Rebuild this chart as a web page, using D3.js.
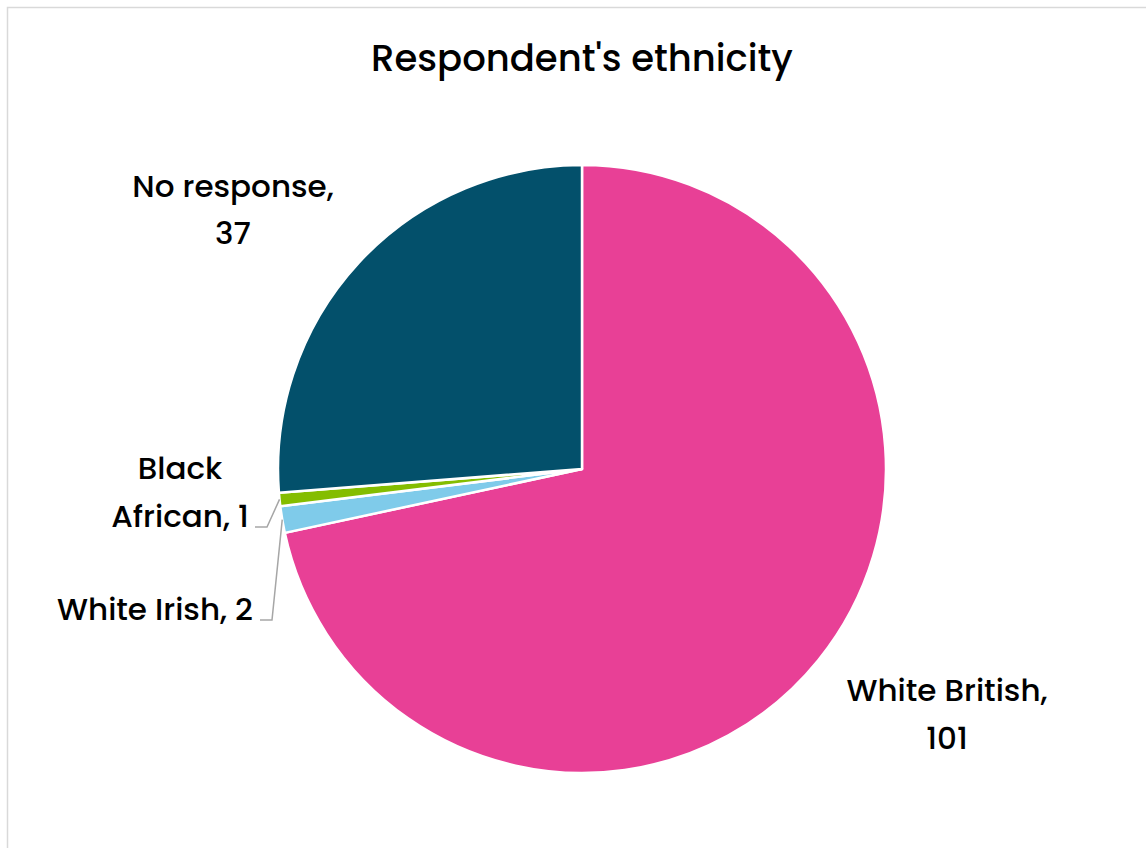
<!DOCTYPE html>
<html>
<head>
<meta charset="utf-8">
<script src="https://cdn.jsdelivr.net/npm/d3@7"></script>
<style>
  html, body { margin: 0; padding: 0; background: #fff; }
  svg { display: block; }
  text { font-family: "Poppins", "Inter", "Noto Sans", sans-serif; fill: #000; font-weight: 500; }
</style>
</head>
<body>
<svg id="chart" width="1146" height="848"></svg>
<script>
// Survey results: respondent ethnicity
const categories = ["White British", "White Irish", "Black African", "No response"];
const counts = [101, 2, 1, 37];
const colors = ["#E84096", "#7FCBEA", "#84BD00", "#03506B"];

// Label placement (text centre, per line) and leader-line elbows
const labelLines = [
  [["White British,", 947, 690], ["101", 947, 738]],
  [["White Irish, 2", 155, 609]],
  [["Black", 180, 468], ["African, 1", 180, 516]],
  [["No response,", 233, 186], ["37", 233, 233]]
];
const leaders = [null, [[272, 620], [260, 620]], [[267, 527], [255, 527]], null];

const svg = d3.select("#chart");
const W = 1146, H = 848;
const cx = 582, cy = 469, R = 304;

// chart frame
svg.append("rect")
  .attr("x", 7.5).attr("y", 7.5)
  .attr("width", W + 10).attr("height", H + 10)
  .attr("fill", "#fff").attr("stroke", "#d9d9d9").attr("stroke-width", 1.5);

svg.append("text")
  .attr("x", 582).attr("y", 58)
  .attr("text-anchor", "middle").attr("dominant-baseline", "central")
  .attr("font-size", 37)
  .text("Respondent's ethnicity");

const data = categories.map((c, i) => ({ name: c, value: counts[i], color: colors[i] }));
const pie = d3.pie().sort(null).value(d => d.value).startAngle(0).endAngle(2 * Math.PI);
const arcs = pie(data);
const arc = d3.arc().innerRadius(0).outerRadius(R);

const g = svg.append("g").attr("transform", `translate(${cx},${cy})`);
g.selectAll("path.slice")
  .data(arcs)
  .join("path")
  .attr("class", "slice")
  .attr("d", arc)
  .attr("fill", d => d.data.color)
  .attr("stroke", "#fff")
  .attr("stroke-width", 2.5)
  .attr("stroke-linejoin", "round");

// leader lines from slice edge to label
arcs.forEach((a, i) => {
  if (!leaders[i]) return;
  const mid = (a.startAngle + a.endAngle) / 2;
  const p0 = [cx + R * Math.sin(mid), cy - R * Math.cos(mid)];
  const pts = [p0, ...leaders[i]];
  svg.append("path")
    .attr("d", d3.line()(pts))
    .attr("fill", "none")
    .attr("stroke", "#a6a6a6")
    .attr("stroke-width", 1.5);
});

// data labels
labelLines.forEach(lines => {
  lines.forEach(([t, x, y]) => {
    svg.append("text")
      .attr("x", x).attr("y", y)
      .attr("text-anchor", "middle").attr("dominant-baseline", "central")
      .attr("font-size", 31)
      .text(t);
  });
});
</script>
</body>
</html>
